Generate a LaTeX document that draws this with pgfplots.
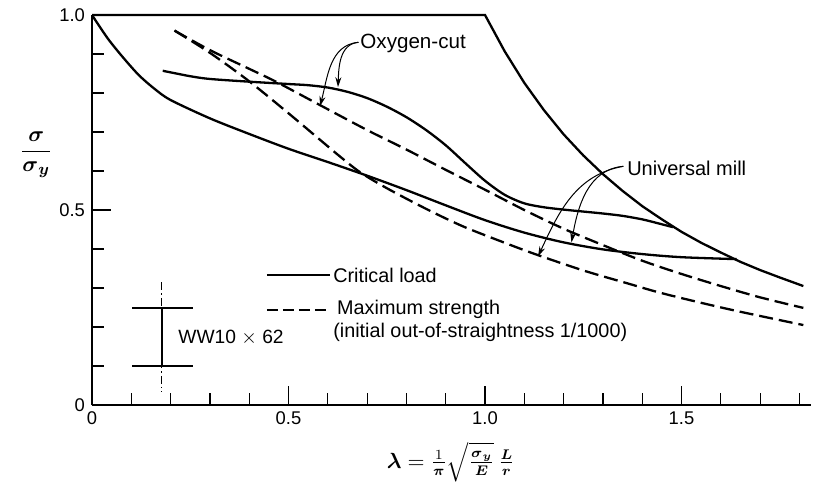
\documentclass[border=0pt]{standalone}
\usepackage{amsmath}
\usepackage{pgfplots}
\pgfplotsset{compat=1.18}
\usepackage{fontspec}
\setmainfont{Liberation Sans}
\usetikzlibrary{arrows.meta}
\begin{document}
\begin{tikzpicture}
\path[use as bounding box] (-46pt,-38.5pt) rectangle (360.5pt,202.5pt);
\begin{axis}[
  x=196.5pt, y=195pt,
  xmin=0, xmax=1.83, ymin=0, ymax=1.0,
  axis x line=bottom, axis y line=left,
  axis line style={-, line width=1pt},
  xtick align=inside, ytick align=inside,
  xtick={0,0.5,1,1.5}, xticklabels={0,0.5,1.0,1.5},
  minor xtick={0.1,0.2,0.3,0.4,0.6,0.7,0.8,0.9,1.1,1.2,1.3,1.4,1.6,1.7,1.8},
  ytick={0,0.5,1}, yticklabels={0,0.5,1.0},
  minor ytick={0.1,0.2,0.3,0.4,0.6,0.7,0.8,0.9},
  major tick length=9.5pt, minor tick length=6pt,
  tick style={line width=0.6pt, black},
  ticklabel style={font=\fontsize{9.2}{10}\selectfont},
  /pgf/number format/assume math mode=true,
  clip=false,
  every axis plot/.append style={line width=1.15pt, black},
]
% Yield plateau and Euler curve
\addplot[solid] coordinates {(0,1) (1.0,1) (1.05,0.907) (1.1,0.826) (1.15,0.756) (1.2,0.694) (1.25,0.640) (1.3,0.592) (1.35,0.549) (1.4,0.510) (1.45,0.476) (1.5,0.444) (1.55,0.416) (1.6,0.391) (1.65,0.367) (1.7,0.346) (1.75,0.327) (1.81,0.305)};
% Universal mill, critical load
\addplot[solid, smooth] coordinates {(0,1.0) (0.04,0.94) (0.08,0.89) (0.12,0.845) (0.16,0.81) (0.2,0.782) (0.3,0.735) (0.4,0.695) (0.5,0.657) (0.6,0.623) (0.7,0.588) (0.8,0.551) (0.9,0.512) (1.0,0.474) (1.1,0.442) (1.2,0.417) (1.3,0.399) (1.4,0.387) (1.5,0.379) (1.64,0.374)};
% Oxygen-cut, critical load
\addplot[solid, smooth] coordinates {(0.18,0.857) (0.25,0.843) (0.3,0.836) (0.4,0.829) (0.5,0.823) (0.55,0.82) (0.6,0.814) (0.65,0.803) (0.7,0.787) (0.75,0.765) (0.8,0.738) (0.85,0.705) (0.9,0.666) (0.95,0.62) (1.0,0.575) (1.05,0.539) (1.1,0.517) (1.15,0.507) (1.2,0.501) (1.25,0.496) (1.3,0.491) (1.35,0.485) (1.4,0.476) (1.44,0.466) (1.478,0.456)};
% Oxygen-cut, maximum strength
\addplot[dash pattern=on 7pt off 3pt, smooth] coordinates {(0.21,0.96) (0.3,0.91) (0.4,0.862) (0.47,0.828) (0.58,0.769) (0.7,0.705) (0.8,0.655) (0.9,0.603) (1.0,0.552) (1.1,0.5) (1.2,0.452) (1.3,0.41) (1.4,0.37) (1.5,0.336) (1.6,0.305) (1.7,0.276) (1.81,0.249)};
% Universal mill, maximum strength
\addplot[dash pattern=on 7pt off 3pt, smooth] coordinates {(0.21,0.96) (0.3,0.903) (0.4,0.83) (0.5,0.748) (0.572,0.687) (0.63,0.638) (0.682,0.597) (0.75,0.556) (0.85,0.503) (0.944,0.458) (1.05,0.416) (1.13,0.386) (1.25,0.345) (1.369,0.31) (1.445,0.288) (1.55,0.262) (1.65,0.239) (1.81,0.205)};
% legend samples
\addplot[solid] coordinates {(0.445,0.333) (0.606,0.333)};
\addplot[dash pattern=on 5.5pt off 2.5pt] coordinates {(0.445,0.244) (0.606,0.244)};

\node[anchor=west, font=\fontsize{9.9}{11}\selectfont, inner sep=0pt] at (0.613,0.333) {Critical load};
\node[anchor=west, font=\fontsize{9.9}{11}\selectfont, inner sep=0pt] at (0.623,0.244) {Maximum strength};
\node[anchor=west, font=\fontsize{9.9}{11}\selectfont, inner sep=0pt] at (0.613,0.185) {(initial out-of-straightness 1/1000)};

% annotations
\node[anchor=west, font=\fontsize{10.3}{11}\selectfont, inner sep=0pt] at (0.682,0.928) {Oxygen-cut};
\draw[line width=0.5pt, -{Stealth[length=5pt,width=3pt]}] (0.678,0.93) to[out=185,in=88] (0.626,0.815);
\draw[line width=0.5pt, -{Stealth[length=5pt,width=3pt]}] (0.678,0.93) to[out=185,in=75] (0.58,0.766);
\node[anchor=west, font=\fontsize{10}{11}\selectfont, inner sep=0pt] at (1.361,0.608) {Universal mill};
\draw[line width=0.5pt, -{Stealth[length=5pt,width=3pt]}] (1.352,0.612) to[out=185,in=80] (1.22,0.417);
\draw[line width=0.5pt, -{Stealth[length=5pt,width=3pt]}] (1.352,0.612) to[out=190,in=65] (1.135,0.381);

% I-beam symbol
\draw[line width=1pt] (0.102,0.249) -- (0.257,0.249);
\draw[line width=1pt] (0.102,0.100) -- (0.257,0.100);
\draw[line width=1pt] (0.178,0.249) -- (0.178,0.100);
\draw[line width=0.5pt, dash pattern=on 4pt off 1.5pt on 0.8pt off 1.5pt] (0.178,0.315) -- (0.178,0.033);
\node[anchor=west, font=\fontsize{9.6}{11}\selectfont, inner sep=0pt] at (0.219,0.174) {WW10 $\times$ 62};

% axis labels
\node[font=\fontsize{11}{12}\selectfont] at (-0.142,0.641) {$\dfrac{\boldsymbol{\sigma}}{\boldsymbol{\sigma}_{\boldsymbol{y}}}$};
\node[font=\fontsize{10.5}{12}\selectfont] at (0.913,-0.146) {$\boldsymbol{\lambda} = \frac{1}{\boldsymbol{\pi}}\sqrt{\frac{\boldsymbol{\sigma}_{\boldsymbol{y}}}{\boldsymbol{E}}}\,\frac{\boldsymbol{L}}{\boldsymbol{r}}$};
\end{axis}
\end{tikzpicture}
\end{document}
